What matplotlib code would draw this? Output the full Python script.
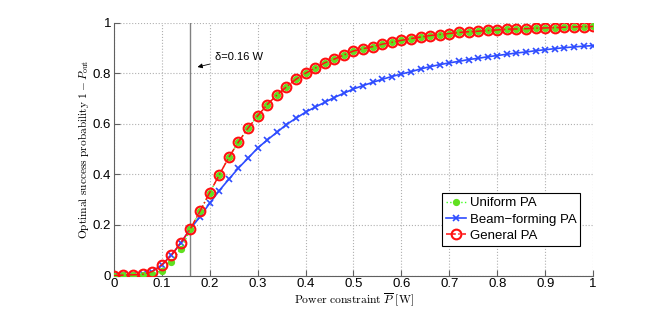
import numpy as np
import matplotlib
matplotlib.use("Agg")
import matplotlib.pyplot as plt

plt.rcParams["mathtext.fontset"] = "cm"
plt.rcParams["font.family"] = ["Liberation Sans", "DejaVu Sans"]

power = np.round(np.arange(0, 1.0001, 0.02), 2)

general_pa = [0.0, 0.002, 0.003, 0.005, 0.016, 0.042, 0.08, 0.13, 0.186, 0.255,
              0.328, 0.398, 0.468, 0.528, 0.583, 0.631, 0.676, 0.713, 0.746, 0.776,
              0.80, 0.82, 0.841, 0.856, 0.872, 0.888, 0.897, 0.905, 0.915, 0.922,
              0.93, 0.937, 0.943, 0.949, 0.953, 0.957, 0.961, 0.964, 0.966, 0.969,
              0.971, 0.974, 0.975, 0.976, 0.978, 0.979, 0.98, 0.982, 0.983, 0.984,
              0.985]

uniform_pa = [0.0, 0.001, 0.002, 0.003, 0.007, 0.02, 0.055, 0.105, 0.183, 0.255,
              0.328, 0.398, 0.468, 0.528, 0.583, 0.631, 0.676, 0.713, 0.746, 0.776,
              0.80, 0.82, 0.841, 0.856, 0.872, 0.888, 0.897, 0.905, 0.915, 0.922,
              0.93, 0.937, 0.943, 0.949, 0.953, 0.957, 0.961, 0.964, 0.966, 0.969,
              0.971, 0.974, 0.975, 0.976, 0.978, 0.979, 0.98, 0.982, 0.983, 0.984,
              0.985]

beam_pa = [0.0, 0.002, 0.003, 0.005, 0.016, 0.042, 0.08, 0.13, 0.186, 0.233,
           0.286, 0.336, 0.381, 0.425, 0.464, 0.504, 0.536, 0.566, 0.597, 0.622,
           0.646, 0.666, 0.685, 0.704, 0.721, 0.738, 0.751, 0.764, 0.776, 0.787,
           0.797, 0.806, 0.817, 0.826, 0.834, 0.841, 0.847, 0.854, 0.859, 0.865,
           0.87, 0.875, 0.88, 0.884, 0.889, 0.893, 0.897, 0.901, 0.904, 0.907,
           0.909]

delta = 0.16

fig = plt.figure(figsize=(6.54, 3.10), dpi=100)
ax = fig.add_axes([0.174, 0.111, 0.733, 0.816])

ax.axvline(delta, color="#808080", linewidth=1.0, zorder=1)

ax.plot(power, uniform_pa, linestyle=":", color="#40ff20", marker="o",
        markersize=4.2, markerfacecolor="#60e020", markeredgecolor="#60e020",
        linewidth=1.0, label="Uniform PA", zorder=4)
ax.plot(power, beam_pa, linestyle="-", color="#2e4cff", marker="x",
        markersize=4.5, markeredgewidth=1.2, linewidth=1.2,
        label="Beam\u2212forming PA", zorder=3)
ax.plot(power, general_pa, linestyle="-.", color="#ff1010", marker="o",
        markersize=7, markerfacecolor="none", markeredgewidth=1.5,
        linewidth=1.1, label="General PA", zorder=5)

ax.annotate("\u03b4=0.16 W", xy=(0.169, 0.822), xytext=(0.212, 0.864),
            fontsize=8, va="center", ha="left",
            arrowprops=dict(arrowstyle="-|>", color="black", linewidth=0.6,
                            mutation_scale=7))

ax.set_xlim(0, 1)
ax.set_ylim(0, 1)
ax.set_xticks(np.arange(0, 1.01, 0.1))
ax.set_xticklabels(["0", "0.1", "0.2", "0.3", "0.4", "0.5", "0.6", "0.7",
                    "0.8", "0.9", "1"])
ax.set_yticks(np.arange(0, 1.01, 0.2))
ax.set_yticklabels(["0", "0.2", "0.4", "0.6", "0.8", "1"])
ax.tick_params(direction="in", labelsize=9.5, length=4, color="#606060", pad=2)
ax.grid(True, linestyle=":", color="#b0b0b0", linewidth=0.8)
ax.spines["top"].set_visible(False)
ax.spines["right"].set_visible(False)
ax.spines["left"].set_color("#606060")
ax.spines["bottom"].set_color("#606060")

ax.set_xlabel(r"$\mathrm{Power\ constraint}\ \overline{P}\ \mathrm{[W]}$",
              fontsize=8.4, labelpad=1)
ax.set_ylabel(r"$\mathrm{Optimal\ success\ probability}\ 1-P_{\mathrm{out}}$",
              fontsize=8.2, labelpad=1)

leg = ax.legend(loc="upper right", bbox_to_anchor=(0.973, 0.326),
                fontsize=9.5, fancybox=False, framealpha=1, edgecolor="black",
                borderpad=0.3, labelspacing=0.3, handlelength=1.5,
                handletextpad=0.3, borderaxespad=0)
leg.get_frame().set_linewidth(0.8)

fig.savefig("out.png", dpi=100)
